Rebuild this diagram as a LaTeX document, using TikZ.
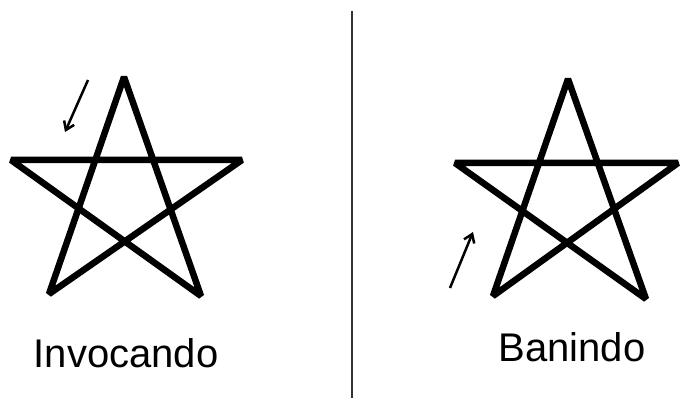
\documentclass[tikz,border=0pt]{standalone}
\usepackage{fontspec}
\setmainfont{Liberation Sans}
\usetikzlibrary{arrows.meta}
\tikzset{
  pentagram/.style={line width=6.5pt,line join=miter,miter limit=2.5},
  hint/.style={-{Straight Barb[length=8pt,width=11pt,line width=2.5pt]},line width=2.5pt},
  caption/.style={anchor=base,font=\fontsize{40}{44}\selectfont}
}

\begin{document}
\begin{tikzpicture}[x=1pt,y=-1pt]
\useasboundingbox (0,0) rectangle (681,398);
\coordinate (ltop) at (124,77);
\coordinate (lbl) at (49,294);
\coordinate (lr) at (242,160);
\coordinate (ll) at (11,160);
\coordinate (lbr) at (201,296);
\draw[pentagram] (ltop) -- (lbl) -- (lr) -- (ll) -- (lbr) -- cycle;
\coordinate (rtop) at (568,79);
\coordinate (rbl) at (493,296);
\coordinate (rr) at (678,163);
\coordinate (rl) at (455,163);
\coordinate (rbr) at (646,299);
\draw[pentagram] (rtop) -- (rbl) -- (rr) -- (rl) -- (rbr) -- cycle;
\coordinate (atail) at (88,80);
\coordinate (atip) at (65,132);
\draw[hint] (atail) -- (atip);
\coordinate (btail) at (450,288);
\coordinate (btip) at (473,232);
\draw[hint] (btail) -- (btip);
\coordinate (dtop) at (352,11);
\coordinate (dbot) at (352,398);
\draw[line width=2.5pt,black!80] (dtop) -- (dbot);
\node[caption] (invoke) at (126,368) {Invocando};
\node[caption] (banish) at (572,362) {Banindo};
\end{tikzpicture}
\end{document}
